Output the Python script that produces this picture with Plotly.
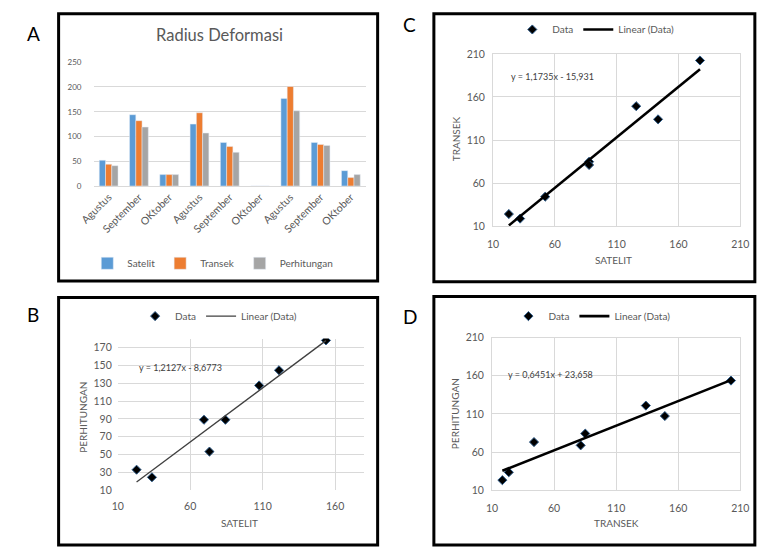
import plotly.graph_objects as go

W, H = 759, 551

# ---- Data ----
months = ["Agustus", "September", "OKtober", "Agustus", "September", "OKtober",
          "Agustus", "September", "OKtober"]
satelit = [52, 144, 23, 125, 88, 0, 177, 88, 31]
transek = [44, 132, 23, 148, 80, 0, 201, 84, 17]
perhitungan = [41, 119, 23, 107, 68, 0, 152, 82, 23]

# Panel B: Satelit vs Perhitungan
b_x = [23, 33.6, 69.5, 73.3, 84.3, 107.6, 121.3, 153.7]
b_y = [33, 24.5, 89, 53.3, 89, 127.5, 144.5, 178]
b_slope, b_intercept = 1.2127, -8.6773

# Panel C: Satelit vs Transek
c_x = [22.8, 31.9, 52.2, 87.7, 87.7, 125.8, 143.5, 177.4]
c_y = [24, 18.7, 44.2, 84.8, 81, 149.3, 134, 202.4]
c_slope, c_intercept = 1.1735, -15.931

# Panel D: Transek vs Perhitungan
d_x = [18.3, 23.5, 43.8, 81.4, 85.1, 133.9, 149.2, 202.5]
d_y = [23.2, 33.5, 73.1, 68.8, 84.2, 120.9, 107.2, 153.7]
d_slope, d_intercept = 0.6451, 23.658

FONT = "Lato"
GRAY = "#595959"
GRID = "#d9d9d9"


def dx(a, b):
    return [a / W, b / W]


def dy(top, bottom):
    return [1 - bottom / H, 1 - top / H]


def px(x):
    return x / W


def py(y):
    return 1 - y / H


fig = go.Figure()

# ---- Panel A: bars ----
cats = list(range(len(months)))
for name, vals, col in [("Satelit", satelit, "#5b9bd5"),
                        ("Transek", transek, "#ed7d31"),
                        ("Perhitungan", perhitungan, "#a5a5a5")]:
    fig.add_trace(go.Bar(x=cats, y=vals, name=name, marker_color=col,
                         xaxis="x", yaxis="y", legend="legend"))


def add_scatter(xs, ys, slope, intercept, ax, lg, lw, lcol):
    fig.add_trace(go.Scatter(x=xs, y=ys, mode="markers", name="Data",
                             marker=dict(symbol="diamond", size=7, color="#000000",
                                         line=dict(color="#2e5c8a", width=1)),
                             xaxis="x" + ax, yaxis="y" + ax, legend=lg))
    x0, x1 = min(xs), max(xs)
    fig.add_trace(go.Scatter(x=[x0, x1], y=[slope * x0 + intercept, slope * x1 + intercept],
                             mode="lines", name="Linear (Data)",
                             line=dict(color=lcol, width=lw),
                             xaxis="x" + ax, yaxis="y" + ax, legend=lg))


add_scatter(b_x, b_y, b_slope, b_intercept, "2", "legend2", 1.3, "#404040")
add_scatter(c_x, c_y, c_slope, c_intercept, "3", "legend3", 2.6, "#000000")
add_scatter(d_x, d_y, d_slope, d_intercept, "4", "legend4", 2.6, "#000000")

tickfont = dict(family=FONT, size=10.5, color=GRAY)

sc_axis = dict(showgrid=True, gridcolor=GRID, gridwidth=1, zeroline=False,
               tickfont=tickfont, ticks="", fixedrange=True)

fig.update_layout(
    width=W, height=H,
    margin=dict(l=0, r=0, t=0, b=0),
    paper_bgcolor="white", plot_bgcolor="white",
    font=dict(family=FONT, color=GRAY),
    bargap=0.38, bargroupgap=0,
    barmode="group",
    xaxis=dict(domain=dx(82, 363), range=[-0.5, 8.5], tickmode="array",
               tickvals=cats, ticktext=months, tickangle=-45,
               tickfont=dict(family=FONT, size=10.5, color=GRAY),
               showline=True, linecolor=GRID, ticks="", anchor="y", fixedrange=True),
    yaxis=dict(domain=dy(57, 184), range=[0, 251], dtick=50, showgrid=True,
               gridcolor=GRID, zeroline=False, tickfont=dict(family=FONT, size=8, color=GRAY),
               ticklabelstandoff=11, anchor="x", fixedrange=True),
    xaxis2=dict(domain=dx(107, 361), range=[10, 180], tick0=10, dtick=50, anchor="y2",
                ticklabelstandoff=8, **sc_axis),
    yaxis2=dict(domain=dy(340, 495), range=[10, 180], tick0=10, dtick=20, anchor="x2",
                ticklabelstandoff=5, **sc_axis),
    xaxis3=dict(domain=dx(494, 749), range=[10, 210], tick0=10, dtick=50, anchor="y3",
                ticklabelstandoff=8, showline=True, linecolor=GRID, mirror=True, **sc_axis),
    yaxis3=dict(domain=dy(49, 225), range=[10, 210], tick0=10, dtick=50, anchor="x3",
                ticklabelstandoff=5, showline=True, linecolor=GRID, mirror=True, **sc_axis),
    xaxis4=dict(domain=dx(493, 749), range=[10, 210], tick0=10, dtick=50, anchor="y4",
                ticklabelstandoff=8, showline=True, linecolor=GRID, mirror=True, **sc_axis),
    yaxis4=dict(domain=dy(339, 495), range=[10, 210], tick0=10, dtick=50, anchor="x4",
                ticklabelstandoff=5, showline=True, linecolor=GRID, mirror=True, **sc_axis),
)

legend_common = dict(orientation="h", xanchor="center", yanchor="middle",
                     font=dict(family=FONT, size=10, color=GRAY),
                     bgcolor="rgba(0,0,0,0)", itemwidth=30, tracegroupgap=0)
fig.update_layout(
    legend=dict(x=px(205), y=py(263), **legend_common),
    legend2=dict(x=px(211), y=py(317), **legend_common),
    legend3=dict(x=px(600), y=py(24), **legend_common),
    legend4=dict(x=px(596), y=py(317), **legend_common),
)

# Panel borders
for (x0, y0, x1, y1) in [(46, 8, 375, 281), (46, 298, 375, 551),
                         (433, 8, 764, 282), (433, 297, 764, 551)]:
    fig.add_shape(type="rect", xref="paper", yref="paper",
                  x0=px(x0), x1=px(x1), y0=py(y1), y1=py(y0),
                  line=dict(color="black", width=3), fillcolor="rgba(0,0,0,0)")


def ann(text, x, y, size, color=GRAY, angle=0):
    fig.add_annotation(text=text, x=px(x), y=py(y), xref="paper", yref="paper",
                       xanchor="center", yanchor="middle", showarrow=False,
                       textangle=angle, font=dict(family=FONT, size=size, color=color))


# Panel letters
ann("A", 20, 28, 19, "black")
ann("B", 20, 315, 19, "black")
ann("C", 408, 19, 19, "black")
ann("D", 408, 317, 19, "black")

# Title A
ann("Radius Deformasi", 212, 30, 16.5)

# Equations
ann("y = 1,2127x - 8,6773", 172, 370, 9, "#404040")
ann("y = 1,1735x - 15,931", 555, 72, 9, "#404040")
ann("y = 0,6451x + 23,658", 553, 377, 9, "#404040")

# Axis titles
ann("PERHITUNGAN", 71, 420, 10, angle=-90)
ann("SATELIT", 233, 528, 10)
ann("TRANSEK", 456, 136, 10, angle=-90)
ann("SATELIT", 618, 260, 10)
ann("PERHITUNGAN", 455, 417, 10, angle=-90)
ann("TRANSEK", 621, 529, 10)

fig.write_html("out.html", post_script="document.body.style.margin='0px';",
               config={"displayModeBar": False})
